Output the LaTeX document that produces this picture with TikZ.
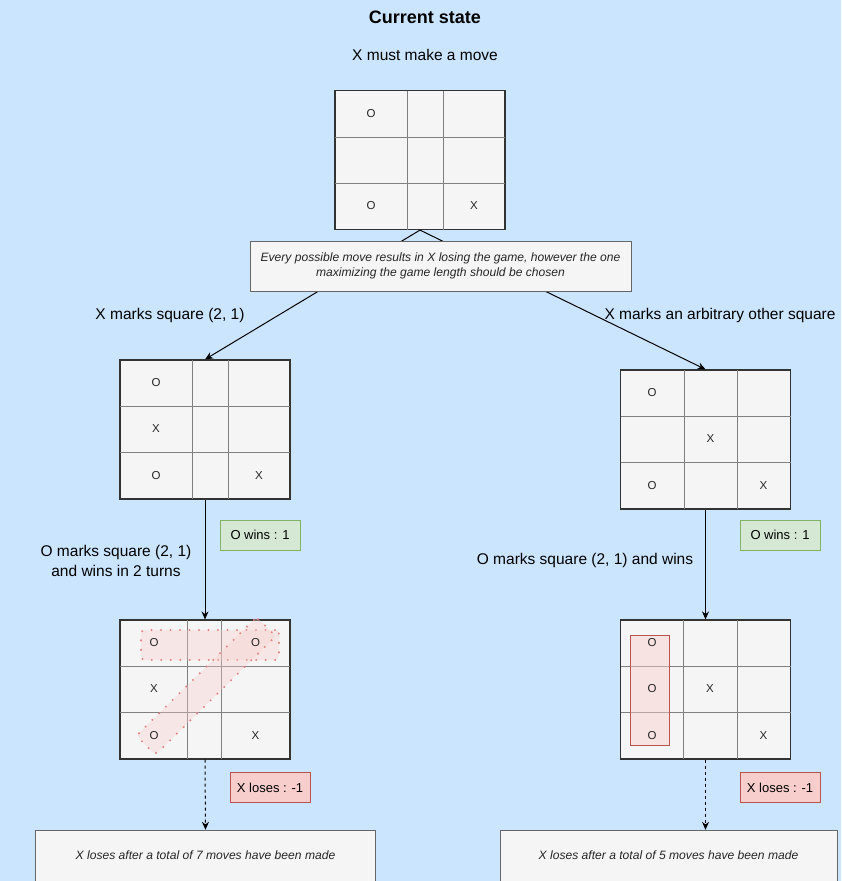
\documentclass[tikz,border=0pt]{standalone}
\usepackage{fontspec}
\setmainfont{Liberation Sans}
\usetikzlibrary{positioning,arrows.meta}

\definecolor{bgblue}{HTML}{CCE5FF}
\definecolor{cellgray}{HTML}{F5F5F5}
\definecolor{linegray}{HTML}{808080}
\definecolor{boxline}{HTML}{666666}
\definecolor{greenfill}{HTML}{D5E8D4}
\definecolor{greenline}{HTML}{82B366}
\definecolor{redfill}{HTML}{F8CECC}
\definecolor{redline}{HTML}{B85450}
\definecolor{dotred}{HTML}{E07C7A}

\tikzset{
  board/.style={draw=black!80, line width=1.2pt, fill=cellgray, minimum width=170pt, minimum height=139pt, inner sep=0pt},
  gridline/.style={draw=linegray, line width=0.9pt},
  cellmark/.style={font=\fontsize{11.5}{13}\selectfont, text=black!85, inner sep=0pt},
  label/.style={font=\fontsize{15.5}{20}\selectfont, align=center, inner sep=0pt},
  comment/.style={draw=boxline, fill=cellgray, font=\itshape\fontsize{12.1}{15}\selectfont, text=black!85, align=center, inner sep=0pt},
  winbox/.style={draw=greenline, fill=greenfill, line width=0.9pt, minimum width=80pt, minimum height=30pt, font=\fontsize{13}{15}\selectfont, inner sep=0pt},
  losebox/.style={draw=redline, fill=redfill, line width=0.9pt, minimum width=80pt, minimum height=30pt, font=\fontsize{13}{15}\selectfont, inner sep=0pt},
  dotmark/.style={draw=dotred, fill=redfill, fill opacity=0.35, draw opacity=0.9, line width=2.3pt, line cap=round, dash pattern=on 0pt off 9.5pt, rounded corners=4pt, inner sep=0pt},
  linemark/.style={draw=redline, fill=redfill, fill opacity=0.45, line width=0.9pt, inner sep=0pt},
  arrow/.style={-{Stealth[length=8pt,width=7pt]}, line width=1pt, black}
}

\newcommand{\drawgrid}[8]{%
  \draw[gridline] (#5,#2) -- (#5,#4) (#6,#2) -- (#6,#4) (#1,#7) -- (#3,#7) (#1,#8) -- (#3,#8);}

\begin{document}
\begin{tikzpicture}[x=1pt, y=-1pt]
  \useasboundingbox[fill=bgblue] (0,0) rectangle (841,881);

  \node[font=\bfseries\fontsize{18}{22}\selectfont] (title) at (425,17) {Current state};
  \node[label] (turn) at (425,55) {X must make a move};

  % boards
  \node[board] (start) at (420,160) {};
  \drawgrid{335}{90.5}{505}{229.5}{407}{443}{137}{183}
  \node[board] (pickL) at (205,429.5) {};
  \drawgrid{120}{360}{290}{499}{192}{228}{406}{452}
  \node[board] (pickR) at (705.5,439.5) {};
  \drawgrid{620.5}{370}{790.5}{509}{684}{737}{416}{462}
  \node[board] (endL) at (205,689.5) {};
  \drawgrid{120}{620}{290}{759}{187}{221}{666}{712}
  \node[board] (endR) at (705.5,689.5) {};
  \drawgrid{620.5}{620}{790.5}{759}{683}{737}{666}{712}

  % winning lines
  \node[dotmark, minimum width=138pt, minimum height=30pt] (rowwin) at (210,645) {};
  \node[dotmark, minimum width=169pt, minimum height=27pt, rotate=44.6] (diagwin) at (206,686) {};
  \node[linemark, minimum width=39pt, minimum height=110pt] (colwin) at (650,690) {};

  % marks
  \node[cellmark] (s1) at (371,113.5) {O};
  \node[cellmark] (s2) at (371,206) {O};
  \node[cellmark] (s3) at (474,206) {X};
  \node[cellmark] (l1) at (156,383) {O};
  \node[cellmark] (l2) at (156,429) {X};
  \node[cellmark] (l3) at (156,475.5) {O};
  \node[cellmark] (l4) at (259,475.5) {X};
  \node[cellmark] (r1) at (652,393) {O};
  \node[cellmark] (r2) at (710.5,439) {X};
  \node[cellmark] (r3) at (652,485.5) {O};
  \node[cellmark] (r4) at (763.5,485.5) {X};
  \node[cellmark] (m1) at (154,643) {O};
  \node[cellmark] (m2) at (255.5,643) {O};
  \node[cellmark] (m3) at (154,689) {X};
  \node[cellmark] (m4) at (154,735.5) {O};
  \node[cellmark] (m5) at (255.5,735.5) {X};
  \node[cellmark] (n1) at (652,643) {O};
  \node[cellmark] (n2) at (652,689) {O};
  \node[cellmark] (n3) at (652,735.5) {O};
  \node[cellmark] (n4) at (710,689) {X};
  \node[cellmark] (n5) at (763.5,735.5) {X};

  % moves
  \draw[arrow] (start.south) -- (pickL.north);
  \draw[arrow] (start.south) -- (pickR.north);
  \node[comment, minimum width=381pt, minimum height=50pt] (why) at (440.5,265.7)
    {Every possible move results in X losing the game, however the one\\maximizing the game length should be chosen};
  \node[label] (moveL) at (170,315) {X marks square (2, 1)};
  \node[label] (moveR) at (720,315) {X marks an arbitrary other square};

  \draw[arrow] (pickL.south) -- (endL.north);
  \draw[arrow] (pickR.south) -- (endR.north);
  \node[label] (replyL) at (116,561) {O marks square (2, 1)\\and wins in 2 turns};
  \node[label] (replyR) at (585,560) {O marks square (2, 1) and wins};
  \node[winbox] (winL) at (260,535) {O wins : 1};
  \node[winbox] (winR) at (780,535) {O wins : 1};

  % outcome
  \node[losebox] (loseL) at (270,787.5) {X loses : -1};
  \node[losebox] (loseR) at (780,787.5) {X loses : -1};
  \node[comment, minimum width=340pt, minimum height=51pt] (sumL) at (205.5,855.5)
    {X loses after a total of 7 moves have been made};
  \node[comment, minimum width=337pt, minimum height=51pt] (sumR) at (668.5,855.5)
    {X loses after a total of 5 moves have been made};
  \draw[arrow, dashed] (endL.south) -- (sumL.north);
  \draw[arrow, dashed] (endR.south) -- (endR.south |- sumR.north);
\end{tikzpicture}
\end{document}
